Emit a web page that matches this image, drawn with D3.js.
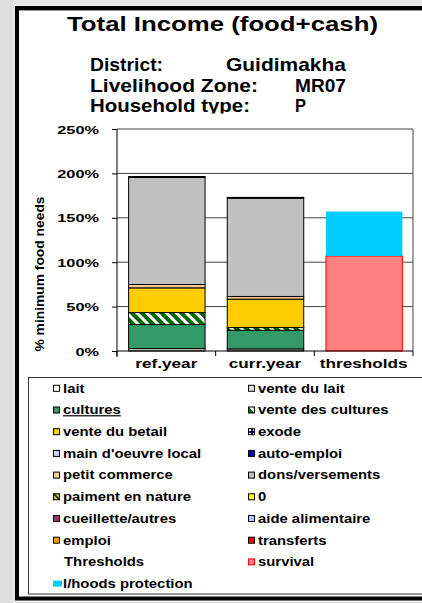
<!DOCTYPE html>
<html><head><meta charset="utf-8">
<script src="https://cdn.jsdelivr.net/npm/d3@7"></script>
<style>
body{margin:0;background:#e8e8e8;}
svg{display:block;}
text{font-family:"Liberation Sans",Arial,sans-serif;font-weight:bold;fill:#000;}
</style>
</head><body><svg id="c" width="422" height="603"></svg>
<script>
// ---------- DATA ----------
const categories = ["ref.year", "curr.year", "thresholds"];
const incomeSeries = ["vente du lait", "cultures", "vente des cultures", "vente du betail", "petit commerce", "dons/versements", "cueillette/autres"];
const refYearValues  = [2.7, 27.1, 13.5, 27.8, 3.8, 120.6, 1.0];
const currYearValues = [2.3, 21.1, 3.0, 32.0, 3.0, 110.6, 1.0];
const thresholdSeries = ["survival", "l/hoods protection"];
const thresholdValues = [107, 50];
const yTicks = [0, 50, 100, 150, 200, 250];
const yTickLabels = ["0%", "50%", "100%", "150%", "200%", "250%"];
const legendLabels = ["lait", "vente du lait", "cultures", "vente des cultures", "vente du betail", "exode",
  "main d'oeuvre local", "auto-emploi", "petit commerce", "dons/versements", "paiment en nature", "0",
  "cueillette/autres", "aide alimentaire", "emploi", "transferts", "Thresholds", "survival", "l/hoods protection"];
const titleText = "Total Income (food+cash)";
const infoLabels = ["District:", "Livelihood Zone:", "Household type:"];
const infoValues = ["Guidimakha", "MR07", "P"];

// ---------- STYLE ----------
const colors = {
  "lait": "#ffffff", "vente du lait": "#dcdcdc", "cultures": "#339966", "vente des cultures": "url(#hatchGreen)",
  "vente du betail": "#ffcc00", "exode": "url(#dotNavy)", "main d'oeuvre local": "#ccccff", "auto-emploi": "#0000cc",
  "petit commerce": "#ffcc99", "dons/versements": "#c0c0c0", "paiment en nature": "url(#hatchYellow)", "0": "#ffff00",
  "cueillette/autres": "#993366", "aide alimentaire": "#99ccff", "emploi": "#ff9900", "transferts": "#ff0000",
  "survival": "#ff8080", "l/hoods protection": "#00ccff"
};

const svg = d3.select("#c");
const defs = svg.append("defs");
// hatch patterns
const pg = defs.append("pattern").attr("id", "hatchGreen").attr("patternUnits", "userSpaceOnUse")
  .attr("width", 7).attr("height", 7).attr("patternTransform", "rotate(-45)");
pg.append("rect").attr("width", 7).attr("height", 7).attr("fill", "#006600");
pg.append("rect").attr("width", 3).attr("height", 7).attr("fill", "#ffffff");
const py = defs.append("pattern").attr("id", "hatchYellow").attr("patternUnits", "userSpaceOnUse")
  .attr("width", 4).attr("height", 4).attr("patternTransform", "rotate(-45)");
py.append("rect").attr("width", 4).attr("height", 4).attr("fill", "#cccc33");
py.append("rect").attr("width", 1.5).attr("height", 4).attr("fill", "#000");
const pn = defs.append("pattern").attr("id", "dotNavy").attr("patternUnits", "userSpaceOnUse")
  .attr("width", 4).attr("height", 4);
pn.append("rect").attr("width", 4).attr("height", 4).attr("fill", "#000080");
pn.append("rect").attr("x", 1).attr("y", 1).attr("width", 2).attr("height", 2).attr("fill", "#ffffff");
defs.append("clipPath").attr("id", "infoClip").append("rect").attr("x", 0).attr("y", 0).attr("width", 422).attr("height", 113.5);

// ---------- FRAME ----------
svg.append("rect").attr("x", 0).attr("y", 0).attr("width", 13).attr("height", 603).attr("fill", "#dedede");
svg.append("rect").attr("x", 17).attr("y", 8).attr("width", 430).attr("height", 590.5)
  .attr("fill", "#ffffff").attr("stroke", "#000").attr("stroke-width", 4);
svg.append("line").attr("x1", 19).attr("x2", 422).attr("y1", 10.5).attr("y2", 10.5).attr("stroke", "#999").attr("stroke-width", 1);

// helper: stretch text horizontally to a target width
function fitText(sel, width) {
  sel.attr("textLength", width).attr("lengthAdjust", "spacingAndGlyphs");
}
function stretch(sel, sx) {
  sel.each(function () {
    const t = d3.select(this);
    const x = +t.attr("x") || 0, y = +t.attr("y") || 0;
    t.attr("transform", `translate(${x},${y}) scale(${sx},1)`).attr("x", 0).attr("y", 0);
  });
}

// ---------- TITLE ----------
svg.append("text").attr("x", 67).attr("y", 31).attr("font-size", 21).text(titleText).call(fitText, 311);
const info = svg.append("g").attr("clip-path", "url(#infoClip)");
const infoLabelW = [73, 168, 160], infoValueW = [120, 51, 11], infoValueX = [226, 295, 295];
infoLabels.forEach((s, i) => {
  info.append("text").attr("x", 90).attr("y", 71 + i * 20.5).attr("font-size", 18.5).text(s).call(fitText, infoLabelW[i]);
  info.append("text").attr("x", infoValueX[i]).attr("y", 71 + i * 20.5).attr("font-size", 18.5).text(infoValues[i]).call(fitText, infoValueW[i]);
});

// ---------- SCALES ----------
const x = d3.scaleBand().domain(categories).range([117, 413]).paddingInner(0.225).paddingOuter(0.1125);
const y = d3.scaleLinear().domain([0, 250]).range([351, 129]);

// grid
svg.append("g").selectAll("line").data(yTicks.filter(d => d > 0)).join("line")
  .attr("x1", 117).attr("x2", 413).attr("y1", d => y(d)).attr("y2", d => y(d))
  .attr("stroke", "#444").attr("stroke-width", 1);
svg.append("line").attr("x1", 413).attr("x2", 413).attr("y1", y(250)).attr("y2", y(0)).attr("stroke", "#444");

// ---------- BARS ----------
const table = [
  Object.fromEntries(incomeSeries.map((s, i) => [s, refYearValues[i]]).concat(thresholdSeries.map(s => [s, 0]))),
  Object.fromEntries(incomeSeries.map((s, i) => [s, currYearValues[i]]).concat(thresholdSeries.map(s => [s, 0]))),
  Object.fromEntries(incomeSeries.map(s => [s, 0]).concat(thresholdSeries.map((s, i) => [s, thresholdValues[i]])))
];
table.forEach((r, i) => r.cat = categories[i]);
const stack = d3.stack().keys(incomeSeries.concat(thresholdSeries));
const layers = stack(table);
const barG = svg.append("g");
layers.forEach(layer => {
  const isThr = thresholdSeries.includes(layer.key);
  barG.append("g").selectAll("rect").data(layer.filter(d => d[1] - d[0] > 0)).join("rect")
    .attr("x", d => x(d.data.cat) + 0.5).attr("width", x.bandwidth())
    .attr("y", d => y(d[1])).attr("height", d => y(d[0]) - y(d[1]))
    .attr("fill", colors[layer.key])
    .attr("stroke", isThr ? (layer.key === "survival" ? "#ff0000" : "none") : "#000")
    .attr("stroke-width", 1);
});

// ---------- AXES ----------
const yAxis = svg.append("g").attr("transform", "translate(117,0)")
  .call(d3.axisLeft(y).tickValues(yTicks).tickSize(5).tickPadding(13).tickFormat((d, i) => yTickLabels[i]));
yAxis.select(".domain").attr("stroke", "#000").attr("d", `M0,${y(250)}V${y(0) + 6}`);
yAxis.selectAll(".tick line").attr("stroke", "#000");
yAxis.selectAll("text").attr("font-size", 11.5).attr("font-family", null).attr("dy", "0.36em").call(stretch, 1.42);

svg.append("line").attr("x1", 117).attr("x2", 413).attr("y1", y(0)).attr("y2", y(0)).attr("stroke", "#000");
const bounds = categories.map(c => x(c) - x.step() * x.paddingInner() / 2).concat([413]);
svg.append("g").selectAll("line").data(bounds).join("line")
  .attr("x1", d => d).attr("x2", d => d).attr("y1", y(0)).attr("y2", y(0) + 5).attr("stroke", "#000");
svg.append("g").selectAll("text").data(categories).join("text")
  .attr("x", d => x(d) + x.bandwidth() / 2).attr("y", 368).attr("text-anchor", "middle")
  .attr("font-size", 12.8).text(d => d).call(stretch, 1.34);

svg.append("text").attr("transform", "translate(44,274) rotate(-90)").attr("text-anchor", "middle")
  .attr("font-size", 13).text("% minimum food needs").call(fitText, 155);

// ---------- LEGEND ----------
svg.append("rect").attr("x", 28.5).attr("y", 377.5).attr("width", 420).attr("height", 216.5)
  .attr("fill", "#fff").attr("stroke", "#333").attr("stroke-width", 1);
const colX = [53, 248], rowY0 = 388.3, rowStep = 21.7;
const lg = svg.append("g");
legendLabels.forEach((lab, i) => {
  const cx = colX[i % 2], cy = rowY0 + Math.floor(i / 2) * rowStep;
  if (lab === "l/hoods protection") {
    lg.append("rect").attr("x", cx).attr("y", cy - 3).attr("width", 9).attr("height", 6).attr("fill", colors[lab]);
  } else if (lab !== "Thresholds") {
    lg.append("rect").attr("x", cx + 0.5).attr("y", cy - 3).attr("width", 6).attr("height", 6)
      .attr("fill", colors[lab]).attr("stroke", lab === "survival" ? "#ff0000" : "#000").attr("stroke-width", 1);
  }
  const t = lg.append("text").attr("x", cx + (lab === "Thresholds" ? 11 : 10)).attr("y", cy + 4.3)
    .attr("font-size", 12).attr("fill", "#111").text(lab);
  if (lab === "cultures") t.attr("text-decoration", "underline");
  t.call(stretch, 1.24);
});
</script>
</body></html>
